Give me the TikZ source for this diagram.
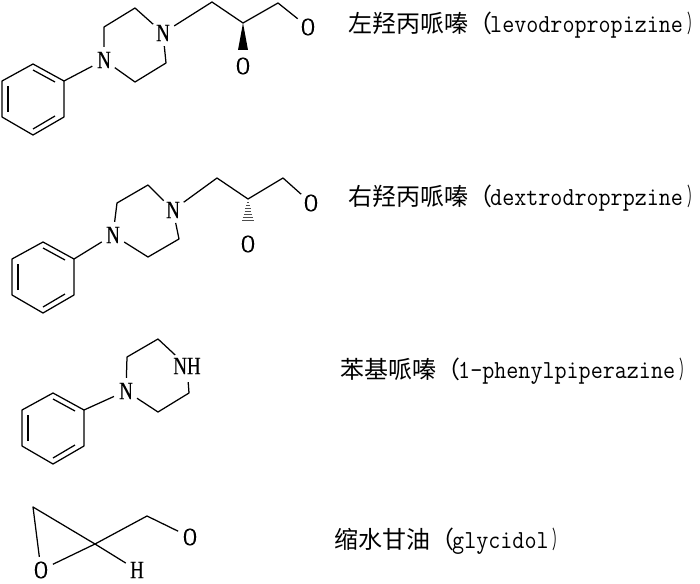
\documentclass[tikz,border=0pt]{standalone}
\usepackage{fontspec}
\usepackage{graphicx}
\newfontfamily\cjk{Noto Sans CJK SC}
\newfontfamily\atomfont[FakeStretch=0.76,FakeBold=0.4]{Liberation Serif}
\usetikzlibrary{calc}
\newcommand{\drug}[2]{{\cjk #1（}\kern-2pt\scalebox{.9}[1]{\ttfamily\fontsize{26}{26}\selectfont #2}\kern4pt\scalebox{.5}[1]{\cjk ）}}
\newcommand{\phenyl}[3]{%
  \begin{scope}[shift={(#2,#3)}]
   \coordinate (#1p1) at (33,64);
   \coordinate (#1p2) at (64,81);
   \coordinate (#1p3) at (64,117);
   \coordinate (#1p4) at (33,135);
   \coordinate (#1p5) at (2,117);
   \coordinate (#1p6) at (2,81);
   \draw[bond] (#1p1) -- (#1p2) -- (#1p3) -- (#1p4) -- (#1p5) -- (#1p6) -- cycle;
   \draw[bond] ($(#1p1)+(0,6)$)   -- ($(#1p2)+(-9,1)$);
   \draw[bond] ($(#1p3)+(-9,-1)$) -- ($(#1p4)+(0,-6)$);
   \draw[bond] ($(#1p5)+(6,-5)$)  -- ($(#1p6)+(6,5)$);
  \end{scope}}
\tikzset{
  bond/.style={line width=1.25pt,line join=round},
  atom/.style={circle,inner sep=0pt,minimum size=26pt,font=\atomfont\fontsize{25}{25}\selectfont},
  drugname/.style={anchor=west,inner sep=0pt,font=\fontsize{24}{24}\selectfont}
}

\begin{document}
\begin{tikzpicture}[x=1pt,y=-1pt]
  \useasboundingbox (0,0) rectangle (700,583);
  \begin{scope}
   \phenyl{a}{0}{0}
   \node[atom] (an1) at (104,60) {N};
   \node[atom] (an2) at (163,33) {N};
   \node[atom] (ao1) at (308,27) {O};
   \node[atom] (ao2) at (243,66) {O};
   \coordinate (ac1) at (104,27);
   \coordinate (ac2) at (135,8);
   \coordinate (ac3) at (166,63);
   \coordinate (ac4) at (135,82);
   \coordinate (ac5) at (212,2);
   \coordinate (ac6) at (243,23);
   \coordinate (ac7) at (278,3);
   \draw[bond] (ap2) -- (an1);
   \draw[bond] (an1) -- (ac1) -- (ac2) -- (an2);
   \draw[bond] (an2) -- (ac3) -- (ac4) -- (an1);
   \draw[bond] (an2) -- (ac5) -- (ac6) -- (ac7) -- (ao1);
   \fill (ac6) -- ($(ac6)+(5,27)$) -- ($(ac6)+(-5,27)$) -- cycle;
   \node[drugname] (alabel) at (348,25) {\drug{左羟丙哌嗪}{levodropropizine}};
  \end{scope}
  \begin{scope}
   \phenyl{b}{10}{178}
   \node[atom] (bn1) at (113,235) {N};
   \node[atom] (bn2) at (173,210) {N};
   \node[atom] (bo1) at (311,203) {O};
   \node[atom] (bo2) at (248,244) {O};
   \coordinate (bc1) at (117,203);
   \coordinate (bc2) at (148,185);
   \coordinate (bc3) at (179,239);
   \coordinate (bc4) at (148,257);
   \coordinate (bc5) at (217,178);
   \coordinate (bc6) at (248,199);
   \coordinate (bc7) at (283,178);
   \draw[bond] (bp2) -- (bn1);
   \draw[bond] (bn1) -- (bc1) -- (bc2) -- (bn2);
   \draw[bond] (bn2) -- (bc3) -- (bc4) -- (bn1);
   \draw[bond] (bn2) -- (bc5) -- (bc6) -- (bc7) -- (bo1);
   \foreach \i in {1,...,7}
     \draw[line width=.8pt,black!70] ($(bc6)+(-.85*\i,3*\i)$) -- ($(bc6)+(.85*\i,3*\i)$);
   \node[drugname] (blabel) at (348,198) {\drug{右羟丙哌嗪}{dextrodroprpzine}};
  \end{scope}
  \begin{scope}
   \phenyl{c}{20}{329}
   \node[atom] (cn1) at (126,391) {N};
   \node[atom] (cn2) at (187,366) {NH};
   \coordinate (cc1) at (127,357);
   \coordinate (cc2) at (158,339);
   \coordinate (cc3) at (189,393);
   \coordinate (cc4) at (158,412);
   \draw[bond] (cp2) -- (cn1);
   \draw[bond] (cn1) -- (cc1) -- (cc2) -- (cn2);
   \draw[bond] (cn2) -- (cc3) -- (cc4) -- (cn1);
   \node[drugname] (clabel) at (340,371) {\drug{苯基哌嗪}{1-phenylpiperazine}};
  \end{scope}
  \begin{scope}
   \node[atom] (do1) at (41,570) {O};
   \node[atom] (do2) at (190,537) {O};
   \node[atom] (dh)  at (137,570) {H};
   \coordinate (dc1) at (33,507);
   \coordinate (dc2) at (95,544);
   \coordinate (dc3) at (147,516);
   \draw[bond] (do1) -- (dc1) -- (dc2) -- (do1);
   \draw[bond] (dc2) -- (dc3) -- (do2);
   \draw[bond] (dc2) -- (dh);
   \node[drugname] (dlabel) at (334,541) {\drug{缩水甘油}{glycidol}};
  \end{scope}
\end{tikzpicture}
\end{document}
